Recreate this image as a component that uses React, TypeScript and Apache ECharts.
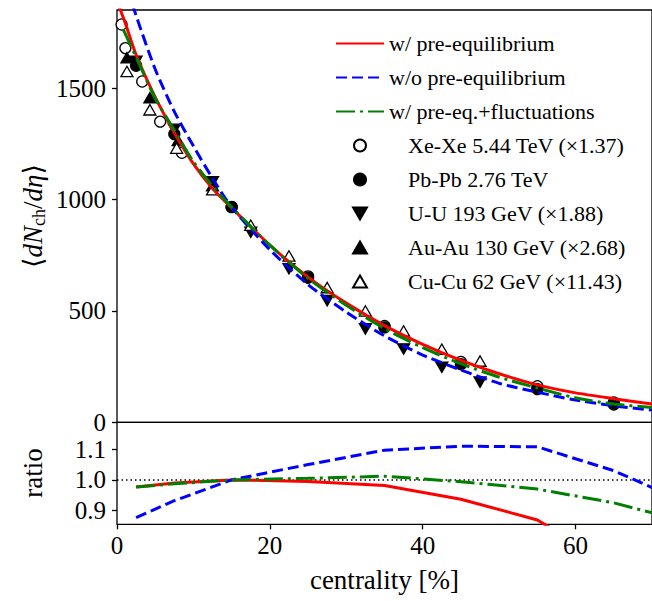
import React, { useEffect, useRef } from "react";
import * as echarts from "echarts";

// ---- data ----
const topCent = [0, 1, 2.5, 5, 7.5, 10, 12.5, 15, 20, 25, 30, 35, 40, 45, 50, 55, 60, 65, 70];
const redTop = [1890, 1800, 1650, 1460, 1300, 1160, 1050, 963, 795, 652, 535, 434, 350, 278, 218, 168, 132, 106, 82];
const blueTop = [2080, 1990, 1826, 1585, 1395, 1240, 1095, 966, 775, 618, 495, 388, 302, 235, 175, 135, 100, 74, 55];
const greenCent = [0.8, 2.5, 5, 7.5, 10, 12.5, 15, 20, 25, 30, 35, 40, 45, 50, 55, 60, 65, 70];
const greenTop = [1765, 1639, 1455, 1311, 1170, 1060, 966, 795, 646, 525, 421, 335, 263, 203, 154, 110, 82, 66];

const ratioCent = [2.5, 7.5, 15, 25, 35, 45, 55, 65, 75];
const redRatio = [0.977, 0.99, 1.0, 0.995, 0.982, 0.937, 0.869, 0.72, 0.6];
const blueRatio = [0.877, 0.932, 1.0, 1.05, 1.097, 1.11, 1.108, 1.03, 0.92];
const greenRatio = [0.977, 0.987, 1.0, 1.005, 1.012, 0.994, 0.97, 0.925, 0.86];

const xeCent = [0.6, 1.1, 3.3, 5.65, 8.5, 15, 25, 35, 45, 55, 65];
const xeVal = [1786, 1680, 1530, 1350, 1210, 967, 655, 432, 271, 162, 89];
const pbCent = [2.5, 7.5, 15, 25, 35, 45, 55, 65];
const pbVal = [1601, 1294, 966, 649, 426, 261, 149, 80];
const uuCent = [2.5, 7.5, 12.5, 17.5, 22.5, 27.5, 32.5, 37.5, 42.5, 47.5];
const uuVal = [1620, 1315, 1080, 853, 689, 546, 419, 329, 247, 180];
const auCent = [1.3, 4.3, 8, 12.5];
const auVal = [1637, 1457, 1265, 1062];
const cuCent = [1.3, 4.3, 7.8, 12.5, 17.5, 22.5, 27.5, 32.5, 37.5, 42.5, 47.5];
const cuVal = [1575, 1403, 1231, 1044, 885, 747, 605, 500, 410, 328, 275];

const xTicks = [0, 20, 40, 60];
const ratioTicks = [0.9, 1.0, 1.1];

const names = {
  red: "w/ pre-equilibrium",
  blue: "w/o pre-equilibrium",
  green: "w/ pre-eq.+fluctuations",
  xe: "Xe-Xe 5.44 TeV (×1.37)",
  pb: "Pb-Pb 2.76 TeV",
  uu: "U-U 193 GeV (×1.88)",
  au: "Au-Au 130 GeV (×2.68)",
  cu: "Cu-Cu 62 GeV (×11.43)",
};

const FONT = "'Liberation Serif', 'DejaVu Serif', serif";
const zip = (a: number[], b: number[]) => a.map((v, i) => [v, b[i]]);
const downTri = "path://M0,0L2,0L1,1.732Z";
const upTri = "path://M1,0L2,1.732L0,1.732Z";

export default function App() {
  const ref = useRef<HTMLDivElement>(null);
  useEffect(() => {
    if (!ref.current) return;
    const chart = echarts.init(ref.current, undefined, { renderer: "svg" });
    const L = 117, W = 536;
    const axisLabel = { color: "#000", fontSize: 25, fontFamily: FONT };
    const scatter = (name: string, data: number[][], symbol: string, fill: string, size: number) => ({
      name,
      type: "scatter",
      xAxisIndex: 0,
      yAxisIndex: 0,
      data,
      symbol,
      symbolSize: size,
      symbolKeepAspect: true,
      itemStyle: { color: fill, borderColor: "#000", borderWidth: 1.3, opacity: 1 },
      z: 2,
    });
    const line = (name: string, data: number[][], color: string, type: any, xi: number, legend = true, smooth: any = 0.25) => ({
      name: legend ? name : name + "_r",
      type: "line",
      xAxisIndex: xi,
      yAxisIndex: xi,
      data,
      symbol: "none",
      smooth,
      lineStyle: { color, width: 3, type, cap: "butt" },
      itemStyle: { color },
      z: 3,
    });
    const noSym = { opacity: 0 };
    const symText = { padding: [0, 0, 0, 19] };
    chart.setOption({
      animation: false,
      backgroundColor: "#fff",
      grid: [
        { left: L, top: 10, width: W, height: 412.3, show: true, borderColor: "#000", borderWidth: 1.3, backgroundColor: "transparent" },
        { left: L, top: 422.3, width: W, height: 102, show: true, borderColor: "#000", borderWidth: 1.3, backgroundColor: "transparent" },
      ],
      xAxis: [
        { gridIndex: 0, type: "value", min: 0, max: 70, axisLine: { show: false }, axisTick: { show: false }, axisLabel: { show: false }, splitLine: { show: false } },
        {
          gridIndex: 1, type: "value", min: 0, max: 70,
          axisLine: { show: false },
          axisTick: { show: true, length: 5, inside: false, lineStyle: { color: "#000", width: 1.3 }, customValues: xTicks },
          axisLabel: { ...axisLabel, margin: 9, customValues: xTicks },
          splitLine: { show: false },
          name: "centrality [%]",
          nameLocation: "middle",
          nameGap: 42,
          nameTextStyle: { color: "#000", fontSize: 27, fontFamily: FONT },
        },
      ],
      yAxis: [
        {
          gridIndex: 0, type: "value", min: 0, max: 1851, interval: 500,
          axisLine: { show: false },
          axisTick: { show: true, length: 5, lineStyle: { color: "#000", width: 1.3 } },
          axisLabel: { ...axisLabel, margin: 11, showMaxLabel: false, formatter: (v: number) => String(v) },
          splitLine: { show: false },
        },
        {
          gridIndex: 1, type: "value", min: 0.855, max: 1.188,
          axisLine: { show: false },
          axisTick: { show: true, length: 5, lineStyle: { color: "#000", width: 1.3 }, customValues: ratioTicks },
          axisLabel: { ...axisLabel, margin: 11, customValues: ratioTicks, formatter: (v: number) => v.toFixed(1) },
          splitLine: { show: false },
        },
      ],
      legend: {
        left: 330,
        top: 27.5,
        orient: "vertical",
        itemWidth: 48,
        itemHeight: 12,
        itemGap: 12,
        textStyle: { color: "#000", fontSize: 22, fontFamily: FONT, lineHeight: 22 },
        data: [
          { name: names.red, itemStyle: noSym },
          { name: names.blue, itemStyle: noSym },
          { name: names.green, itemStyle: noSym },
          { name: names.xe, textStyle: symText },
          { name: names.pb, textStyle: symText },
          { name: names.uu, textStyle: symText },
          { name: names.au, textStyle: symText },
          { name: names.cu, textStyle: symText },
        ],
      },
      graphic: [
        {
          type: "text",
          x: 33,
          y: 216,
          rotation: Math.PI / 2,
          style: {
            text: "⟨{i|dN}{s|ch}{n|/}{i|dη}⟩",
            fontSize: 27,
            fontFamily: FONT,
            fill: "#000",
            align: "center",
            verticalAlign: "middle",
            rich: {
              i: { fontStyle: "italic", fontSize: 27, fontFamily: FONT, fill: "#000" },
              s: { fontSize: 18, fontFamily: FONT, fill: "#000", padding: [12, 0, 0, 0] },
              n: { fontSize: 27, fontFamily: FONT, fill: "#000" },
            },
          },
        },
        {
          type: "text",
          x: 33,
          y: 473,
          rotation: Math.PI / 2,
          style: { text: "ratio", fontSize: 27, fontFamily: FONT, fill: "#000", align: "center", verticalAlign: "middle" },
        },
      ],
      series: [
        scatter(names.xe, zip(xeCent, xeVal), "circle", "#fff", 11),
        scatter(names.pb, zip(pbCent, pbVal), "circle", "#000", 11),
        scatter(names.uu, zip(uuCent, uuVal), downTri, "#000", 12),
        scatter(names.au, zip(auCent, auVal), upTri, "#000", 12),
        scatter(names.cu, zip(cuCent, cuVal), upTri, "#fff", 12),
        line(names.red, zip(topCent, redTop), "#ff0000", "solid", 0),
        line(names.blue, zip(topCent, blueTop), "#0000ff", [11, 5], 0),
        line(names.green, zip(greenCent, greenTop), "#008000", [19, 5, 3, 5], 0),
        line(names.red, zip(ratioCent, redRatio), "#ff0000", "solid", 1, false, false),
        line(names.blue, zip(ratioCent, blueRatio), "#0000ff", [11, 5], 1, false, false),
        line(names.green, zip(ratioCent, greenRatio), "#008000", [19, 5, 3, 5], 1, false, false),
        {
          name: "unity",
          type: "line",
          xAxisIndex: 1,
          yAxisIndex: 1,
          data: [[0, 1], [70, 1]],
          symbol: "none",
          lineStyle: { color: "#000", width: 1.5, type: [1.5, 3] },
          z: 1,
        },
      ],
    });
    return () => chart.dispose();
  }, []);
  return <div ref={ref} style={{ width: 652, height: 601, position: "absolute", left: 0, top: 0 }} />;
}
